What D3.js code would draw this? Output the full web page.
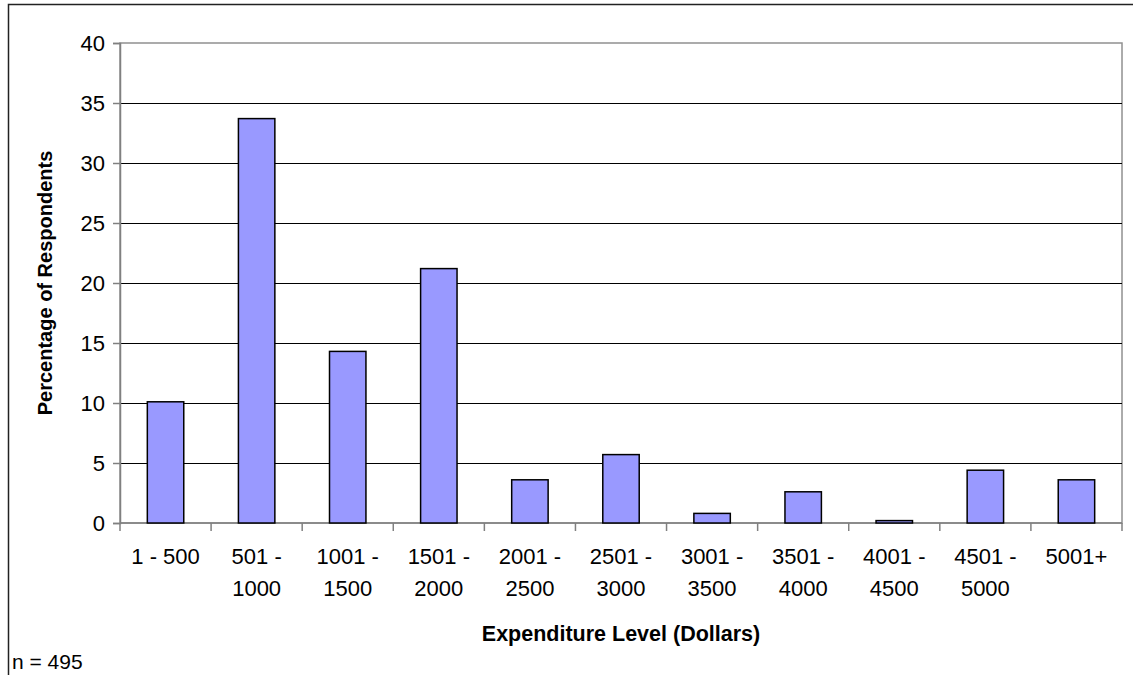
<!DOCTYPE html>
<html>
<head>
<meta charset="utf-8">
<script src="https://cdn.jsdelivr.net/npm/d3@7"></script>
<style>
  body { margin: 0; background: #fff; }
  svg { display: block; font-family: "Liberation Sans", Arial, sans-serif; }
</style>
</head>
<body>
<svg id="chart"></svg>
<script>
// expenditure ranges (two-line labels)
const categories = [
  ["1 - 500"], ["501 -", "1000"], ["1001 -", "1500"], ["1501 -", "2000"],
  ["2001 -", "2500"], ["2501 -", "3000"], ["3001 -", "3500"], ["3501 -", "4000"],
  ["4001 -", "4500"], ["4501 -", "5000"], ["5001+"]
];
// percentage of respondents
const values = [10.1, 33.7, 14.3, 21.2, 3.6, 5.7, 0.8, 2.6, 0.2, 4.4, 3.6];
const yTicks = [0, 5, 10, 15, 20, 25, 30, 35, 40];

const W = 1133, H = 675;
const margin = {top: 43, left: 120, right: 11, bottom: 152};
const width = W - margin.left - margin.right;
const height = H - margin.top - margin.bottom;

const svg = d3.select('#chart').attr('width', W).attr('height', H);

// outer frame
svg.append('path')
    .attr('d', `M8.5,${H} V4.5 H${W}`)
    .attr('fill', 'none')
    .attr('stroke', '#222')
    .attr('stroke-width', 1.5);

const chart = svg.append('g')
    .attr('transform', `translate(${margin.left},${margin.top})`);

const keys = categories.map(c => c.join(' '));
const xScale = d3.scaleBand().domain(keys).range([0, width]).paddingInner(0.6).paddingOuter(0.3);
const xBand = d3.scaleBand().domain(keys).range([0, width]);
const yScale = d3.scaleLinear().domain([0, 40]).range([height, 0]);

// plot area border (grey)
chart.append('rect')
    .attr('x', 0).attr('y', 0)
    .attr('width', width).attr('height', height)
    .attr('fill', 'none')
    .attr('stroke', '#909090')
    .attr('stroke-width', 1.5);

// gridlines
chart.selectAll('.grid')
  .data(yTicks.filter(d => d > 0 && d < 40))
  .join('line')
    .attr('x1', 0).attr('x2', width)
    .attr('y1', d => Math.round(yScale(d)) + 0.5)
    .attr('y2', d => Math.round(yScale(d)) + 0.5)
    .attr('stroke', '#000')
    .attr('stroke-width', 1);

// y axis
const yAxis = d3.axisLeft(yScale).tickValues(yTicks).tickSize(7).tickPadding(8);
const yG = chart.append('g').call(yAxis);
yG.select('.domain').attr('stroke', '#808080').attr('stroke-width', 1.5);
yG.selectAll('.tick line').attr('stroke', '#808080').attr('stroke-width', 1.5);
yG.selectAll('text')
    .attr('font-size', 22)
    .attr('fill', '#000')
    .attr('font-family', '"Liberation Sans", Arial, sans-serif');

// x axis baseline and ticks at category boundaries
const xG = chart.append('g').attr('transform', `translate(0,${height})`);
xG.append('line')
    .attr('x1', 0).attr('x2', width)
    .attr('stroke', '#808080').attr('stroke-width', 1.5);
xG.selectAll('.xtick')
  .data(keys.concat(['end']))
  .join('line')
    .attr('x1', d => d === 'end' ? width : xBand(d))
    .attr('x2', d => d === 'end' ? width : xBand(d))
    .attr('y1', 0).attr('y2', 8)
    .attr('stroke', '#808080').attr('stroke-width', 1.5);

// x labels
const lbl = xG.selectAll('.xlabel')
  .data(categories)
  .join('text')
    .attr('text-anchor', 'middle')
    .attr('font-size', 22)
    .attr('fill', '#000')
    .attr('transform', d => `translate(${xBand(d.join(' ')) + xBand.bandwidth() / 2},41)`);
lbl.selectAll('tspan')
  .data(d => d)
  .join('tspan')
    .attr('x', 0)
    .attr('y', (d, i) => i * 32)
    .text(d => d);

// bars
chart.selectAll('.bar')
  .data(values)
  .join('rect')
    .attr('x', (d, i) => xScale(keys[i]))
    .attr('y', d => yScale(d))
    .attr('width', xScale.bandwidth())
    .attr('height', d => height - yScale(d))
    .attr('fill', '#9999FF')
    .attr('stroke', '#000')
    .attr('stroke-width', 1.5);

// axis titles
svg.append('text')
    .attr('x', margin.left + width / 2)
    .attr('y', 641)
    .attr('text-anchor', 'middle')
    .attr('font-size', 21.5)
    .attr('font-weight', 'bold')
    .text('Expenditure Level (Dollars)');

svg.append('text')
    .attr('transform', `translate(52,${margin.top + height / 2}) rotate(-90)`)
    .attr('text-anchor', 'middle')
    .attr('font-size', 20)
    .attr('font-weight', 'bold')
    .text('Percentage of Respondents');

svg.append('text')
    .attr('x', 12)
    .attr('y', 669)
    .attr('font-size', 21)
    .text('n = 495');
</script>
</body>
</html>
